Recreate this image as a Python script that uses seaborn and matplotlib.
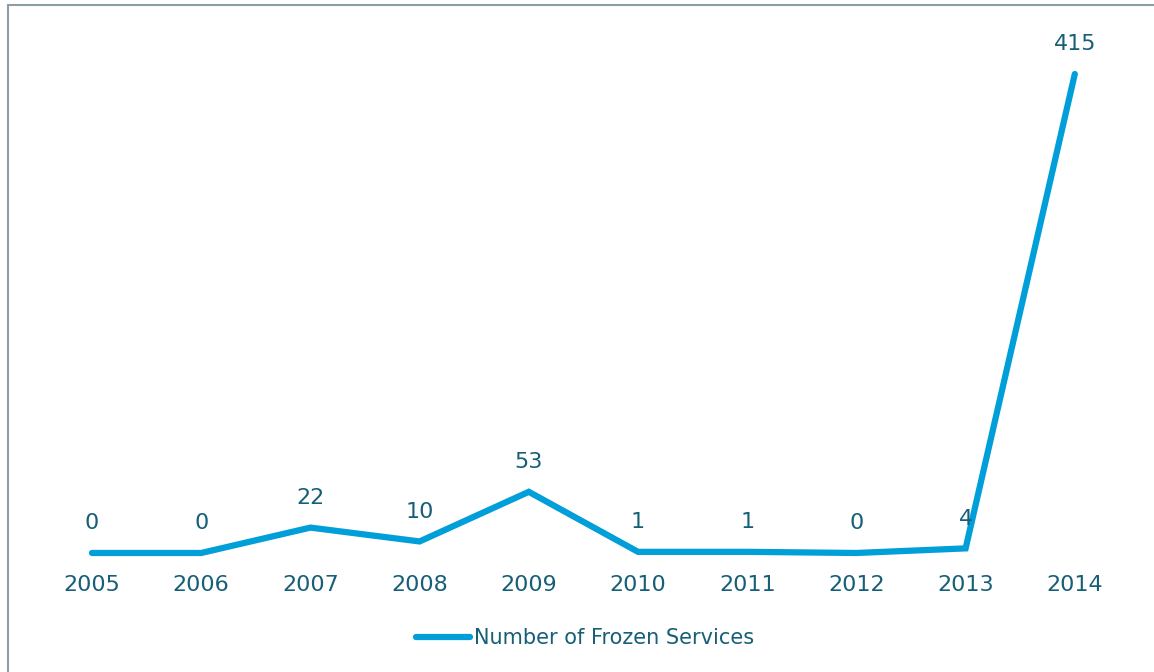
# Line chart of frozen services per year, 2005-2014

import pandas as pd
import matplotlib
matplotlib.use("Agg")
import matplotlib.pyplot as plt
import seaborn as sns

years = [2005, 2006, 2007, 2008, 2009, 2010, 2011, 2012, 2013, 2014]
frozen_services = [0, 0, 22, 10, 53, 1, 1, 0, 4, 415]
series_name = 'Number of Frozen Services'

line_color = '#009FDA'
text_color = '#175E77'
frame_color = '#8E9CA6'

df = pd.DataFrame({'Year': years, series_name: frozen_services})
df['pos'] = range(len(years))

sns.set_style('white')
plt.rcParams['font.family'] = ['DejaVu Sans']

fig = plt.figure(figsize=(11.54, 6.72), dpi=100)
ax = fig.add_axes([0.0324, 0.1771, 0.9463, 0.7128])

sns.lineplot(x='pos', y=series_name, data=df, ax=ax, color=line_color,
             linewidth=4.5, label=series_name, clip_on=False,
             solid_capstyle='round', solid_joinstyle='miter')

ax.set_xlim(-0.5, len(years) - 0.5)
ax.set_ylim(0, 415)
ax.set_xticks(df['pos'])
ax.set_xticklabels([str(y) for y in years], fontsize=16, color=text_color)
ax.tick_params(axis='x', length=0, pad=15.5)
ax.set_yticks([])
ax.set_xlabel('')
ax.set_ylabel('')
for s in ax.spines.values():
    s.set_visible(False)

# data labels above each point
for p, v in zip(df['pos'], df[series_name]):
    ax.annotate(str(v), (p, v), xytext=(0, 21.5), textcoords='offset points',
                ha='center', va='center', fontsize=16, color=text_color)

leg = ax.legend(loc='center', bbox_to_anchor=(0.5 + 8 / 1154, 34 / 672),
                bbox_transform=fig.transFigure, frameon=False,
                fontsize=15, handlelength=2.6, handletextpad=0.2)
for t in leg.get_texts():
    t.set_color(text_color)

# grey frame on left and top of the chart area
fig.add_artist(plt.Line2D([8 / 1154, 8 / 1154], [0, 1 - 5 / 672],
                          transform=fig.transFigure, color=frame_color, linewidth=1.5))
fig.add_artist(plt.Line2D([8 / 1154, 1], [1 - 5 / 672, 1 - 5 / 672],
                          transform=fig.transFigure, color=frame_color, linewidth=1.5))

fig.savefig('out.png', dpi=100)
